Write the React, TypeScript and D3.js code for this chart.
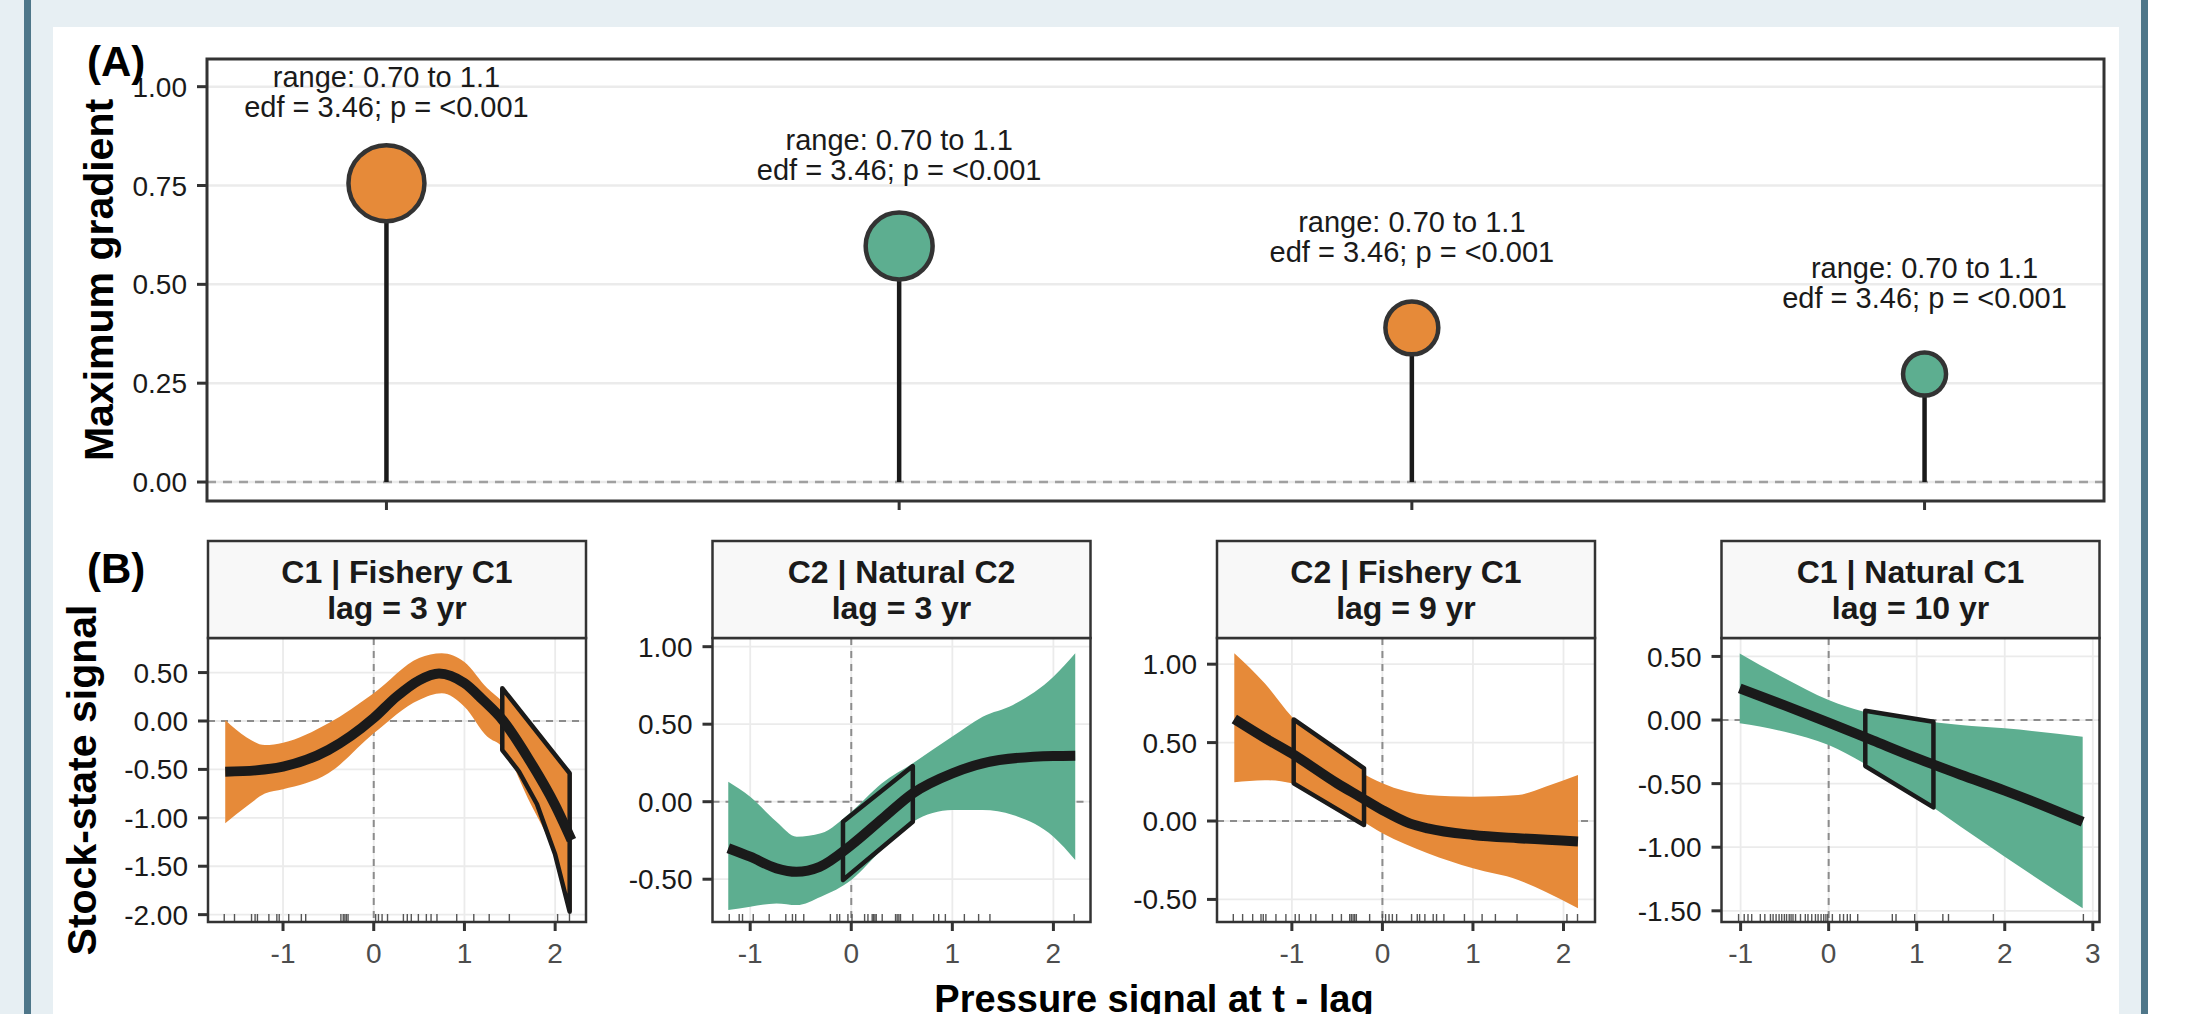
import React from "react";
import * as d3 from "d3";

const W = 2190;
const H = 1014;
const FONT = "'Liberation Sans', Arial, Helvetica, sans-serif";

// ---------------- Panel A data ----------------
const lollipopCategories = ["C1 | Fishery C1", "C2 | Natural C2", "C2 | Fishery C1", "C1 | Natural C1"];
const pressureType = ["Fishery", "Natural", "Fishery", "Natural"];
const maxGradient = [0.756, 0.597, 0.39, 0.273];
const rangeLabels = ["range: 0.70 to 1.1", "range: 0.70 to 1.1", "range: 0.70 to 1.1", "range: 0.70 to 1.1"];
const edfLabels = ["edf = 3.46; p = <0.001", "edf = 3.46; p = <0.001", "edf = 3.46; p = <0.001", "edf = 3.46; p = <0.001"];
const aYTicks = [0, 0.25, 0.5, 0.75, 1.0];
const aYDomain = [-0.048, 1.07];

// ---------------- Panel B data ----------------
const facetTitles = ["C1 | Fishery C1", "C2 | Natural C2", "C2 | Fishery C1", "C1 | Natural C1"];
const facetLags = [3, 3, 9, 10];

const f1XDomain = [-1.827, 2.34];
const f1YDomain = [-2.076, 0.857];
const f1XTicks = [-1, 0, 1, 2];
const f1YTicks = [0.5, 0, -0.5, -1, -1.5, -2];
const f1Fit = [[-1.637, -0.524], [-1.3, -0.51], [-1.0, -0.472], [-0.5, -0.3], [0, 0.03], [0.25, 0.25], [0.5, 0.42], [0.72, 0.49], [1.0, 0.39], [1.2, 0.22], [1.42, 0.01], [1.7, -0.38], [2.0, -0.87], [2.18, -1.23]];
const f1Band = [[-1.637, -1.057, 0.01], [-1.4, -0.88, -0.17], [-1.2, -0.75, -0.248], [-1.0, -0.706, -0.224], [-0.5, -0.54, -0.024], [0, -0.127, 0.286], [0.5, 0.217, 0.65], [0.75, 0.286, 0.7], [1.0, 0.148, 0.61], [1.25, -0.16, 0.34], [1.42, -0.27, 0.2], [1.7, -0.8, -0.1], [2.0, -1.4, -0.4], [2.18, -1.97, -0.54]];
const f1BoxTop = [[1.417, 0.338], [2.16, -0.54]];
const f1BoxBottom = [[1.417, -0.3], [1.6, -0.52], [1.8, -0.86], [2.0, -1.38], [2.16, -1.97]];
const f1Rug = [-1.648, -1.535, -1.347, -1.308, -1.282, -1.156, -1.068, -1.042, -0.937, -0.798, -0.75, -0.362, -0.336, -0.318, -0.301, -0.283, 0.021, 0.052, 0.092, 0.152, 0.327, 0.37, 0.414, 0.492, 0.58, 0.632, 0.697, 0.915, 1.103, 1.273, 1.495, 2.027, 2.158];

const f2XDomain = [-1.373, 2.367];
const f2YDomain = [-0.776, 1.056];
const f2XTicks = [-1, 0, 1, 2];
const f2YTicks = [1, 0.5, 0, -0.5];
const f2Fit = [[-1.217, -0.3], [-1.0, -0.355], [-0.74, -0.43], [-0.543, -0.452], [-0.313, -0.42], [0, -0.28], [0.313, -0.107], [0.609, 0.054], [1.0, 0.183], [1.464, 0.269], [2.0, 0.295], [2.216, 0.297]];
const f2Band = [[-1.217, -0.699, 0.129], [-1.0, -0.677, 0.032], [-0.74, -0.656, -0.129], [-0.54, -0.667, -0.226], [-0.3, -0.613, -0.204], [0, -0.505, -0.065], [0.3, -0.31, 0.118], [0.61, -0.129, 0.248], [1.0, -0.054, 0.42], [1.3, -0.054, 0.548], [1.6, -0.086, 0.624], [2.0, -0.226, 0.806], [2.216, -0.376, 0.957]];
const f2BoxTop = [[-0.082, -0.129], [0.609, 0.23]];
const f2BoxBottom = [[-0.082, -0.505], [0.609, -0.129]];
const f2Rug = [-1.207, -1.109, -1.076, -0.97, -0.812, -0.648, -0.582, -0.55, -0.47, -0.207, -0.141, -0.115, -0.033, 0.007, 0.132, 0.165, 0.207, 0.22, 0.234, 0.247, 0.306, 0.438, 0.454, 0.471, 0.487, 0.609, 0.816, 0.865, 0.931, 1.119, 1.26, 1.372, 2.205];

const f3XDomain = [-1.827, 2.348];
const f3YDomain = [-0.644, 1.167];
const f3XTicks = [-1, 0, 1, 2];
const f3YTicks = [1, 0.5, 0, -0.5];
const f3Fit = [[-1.636, 0.65], [-1.3, 0.53], [-1.0, 0.43], [-0.5, 0.24], [-0.25, 0.155], [0, 0.07], [0.3, -0.015], [0.5, -0.047], [1.0, -0.089], [1.5, -0.11], [2.16, -0.13]];
const f3Band = [[-1.636, 0.247, 1.07], [-1.3, 0.26, 0.878], [-1.0, 0.24, 0.665], [-0.5, 0.07, 0.432], [-0.25, 0.006, 0.315], [0, -0.078, 0.24], [0.5, -0.206, 0.166], [1.0, -0.302, 0.155], [1.5, -0.376, 0.166], [1.8, -0.451, 0.219], [2.16, -0.557, 0.293]];
const f3BoxTop = [[-0.98, 0.648], [-0.203, 0.336]];
const f3BoxBottom = [[-0.98, 0.24], [-0.203, -0.026]];
const f3Rug = [-1.647, -1.544, -1.433, -1.341, -1.316, -1.287, -1.176, -1.066, -0.963, -0.919, -0.791, -0.735, -0.552, -0.453, -0.361, -0.343, -0.324, -0.306, -0.288, -0.141, 0.0, 0.035, 0.073, 0.11, 0.157, 0.322, 0.385, 0.411, 0.469, 0.561, 0.598, 0.679, 0.906, 1.101, 1.248, 1.487, 2.038, 2.155];

const f4XDomain = [-1.217, 3.076];
const f4YDomain = [-1.588, 0.645];
const f4XTicks = [-1, 0, 1, 2, 3];
const f4YTicks = [0.5, 0, -0.5, -1, -1.5];
const f4Fit = [[-1.01, 0.249], [-0.5, 0.115], [0, -0.02], [0.5, -0.16], [1, -0.3], [1.5, -0.43], [2, -0.555], [2.5, -0.69], [2.885, -0.8]];
const f4Band = [[-1.01, -0.026, 0.524], [-0.5, -0.092, 0.328], [0, -0.197, 0.157], [0.4, -0.34, 0.065], [1, -0.6, 0.0], [1.5, -0.839, -0.039], [2, -1.075, -0.065], [2.885, -1.48, -0.131]];
const f4BoxTop = [[0.416, 0.073], [0.8, 0.03], [1.19, -0.013]];
const f4BoxBottom = [[0.416, -0.362], [1.19, -0.687]];
const f4Rug = [-1.023, -0.959, -0.916, -0.874, -0.776, -0.725, -0.661, -0.631, -0.597, -0.563, -0.533, -0.503, -0.478, -0.448, -0.427, -0.405, -0.376, -0.32, -0.265, -0.235, -0.192, -0.15, -0.12, -0.086, -0.056, -0.031, -0.01, 0.042, 0.127, 0.169, 0.212, 0.246, 0.33, 0.723, 0.765, 0.977, 1.297, 1.361, 1.871, 2.893];

const facets = [
  { xDomain: f1XDomain, yDomain: f1YDomain, xTicks: f1XTicks, yTicks: f1YTicks, fit: f1Fit, band: f1Band, boxTop: f1BoxTop, boxBottom: f1BoxBottom, rug: f1Rug },
  { xDomain: f2XDomain, yDomain: f2YDomain, xTicks: f2XTicks, yTicks: f2YTicks, fit: f2Fit, band: f2Band, boxTop: f2BoxTop, boxBottom: f2BoxBottom, rug: f2Rug },
  { xDomain: f3XDomain, yDomain: f3YDomain, xTicks: f3XTicks, yTicks: f3YTicks, fit: f3Fit, band: f3Band, boxTop: f3BoxTop, boxBottom: f3BoxBottom, rug: f3Rug },
  { xDomain: f4XDomain, yDomain: f4YDomain, xTicks: f4XTicks, yTicks: f4YTicks, fit: f4Fit, band: f4Band, boxTop: f4BoxTop, boxBottom: f4BoxBottom, rug: f4Rug },
];

const color = d3.scaleOrdinal<string, string>().domain(["Fishery", "Natural"]).range(["#E68A39", "#5DAE90"]);

const fmt2 = (v: number) => (Math.abs(v) < 1e-9 ? 0 : v).toFixed(2);

function PanelA() {
  const left = 207, right = 2104, top = 59, bottom = 501;
  const x = d3.scalePoint<string>().domain(lollipopCategories).range([left, right]).padding(0.35);
  const y = d3.scaleLinear().domain(aYDomain).range([bottom, top]);
  const ext = d3.extent(maxGradient) as [number, number];
  const area = d3.scaleLinear().domain(ext).range([21.5 * 21.5, 38 * 38]);
  const r = (v: number) => Math.sqrt(area(v));
  return (
    <g>
      <rect x={left} y={top} width={right - left} height={bottom - top} fill="#fff" />
      {aYTicks.map((t) => (
        <line key={t} x1={left} x2={right} y1={y(t)} y2={y(t)} stroke="#ebebeb" strokeWidth={2.5} />
      ))}
      <line x1={left} x2={right} y1={y(0)} y2={y(0)} stroke="#a0a0a0" strokeWidth={2.5} strokeDasharray="9,7" />
      {lollipopCategories.map((c, i) => (
        <line key={"s" + c} x1={x(c)} x2={x(c)} y1={y(0)} y2={y(maxGradient[i])} stroke="#1a1a1a" strokeWidth={4.5} />
      ))}
      {lollipopCategories.map((c, i) => (
        <circle key={"c" + c} cx={x(c)} cy={y(maxGradient[i])} r={r(maxGradient[i])} fill={color(pressureType[i])} stroke="#333" strokeWidth={4.5} />
      ))}
      {lollipopCategories.map((c, i) => {
        const base = y(maxGradient[i] + 0.2);
        return (
          <text key={"t" + c} x={x(c)} textAnchor="middle" fontFamily={FONT} fontSize={29} fill="#1a1a1a">
            <tspan x={x(c)} y={base - 17}>{rangeLabels[i]}</tspan>
            <tspan x={x(c)} y={base + 13}>{edfLabels[i]}</tspan>
          </text>
        );
      })}
      <rect x={left} y={top} width={right - left} height={bottom - top} fill="none" stroke="#333" strokeWidth={3} />
      {aYTicks.map((t) => (
        <g key={"yt" + t}>
          <line x1={left - 10} x2={left} y1={y(t)} y2={y(t)} stroke="#333" strokeWidth={3} />
          <text x={left - 20} y={y(t)} dy="0.36em" textAnchor="end" fontFamily={FONT} fontSize={28} fill="#1a1a1a">{fmt2(t)}</text>
        </g>
      ))}
      {lollipopCategories.map((c) => (
        <line key={"xt" + c} x1={x(c)} x2={x(c)} y1={bottom} y2={bottom + 9} stroke="#333" strokeWidth={3} />
      ))}
      <text transform={`translate(113,${(top + bottom) / 2}) rotate(-90)`} textAnchor="middle" fontFamily={FONT} fontWeight="bold" fontSize={41} fill="#000">Maximum gradient</text>
      <text x={87} y={76} fontFamily={FONT} fontWeight="bold" fontSize={42} fill="#000">(A)</text>
    </g>
  );
}

function Facet({ i }: { i: number }) {
  const f = facets[i];
  const left = 208 + i * 504.5;
  const right = left + 378;
  const top = 638, bottom = 922, stripTop = 541;
  const x = d3.scaleLinear().domain(f.xDomain).range([left, right]);
  const y = d3.scaleLinear().domain(f.yDomain).range([bottom, top]);
  const fill = color(pressureType[i]);
  const bandPath = d3.area<number[]>().x((d) => x(d[0])).y0((d) => y(d[1])).y1((d) => y(d[2])).curve(d3.curveMonotoneX)(f.band as number[][]);
  const fitPath = d3.line<number[]>().x((d) => x(d[0])).y((d) => y(d[1])).curve(d3.curveMonotoneX)(f.fit as number[][]);
  const boxPts = [...f.boxTop, ...[...f.boxBottom].reverse()];
  const boxPath = d3.line<number[]>().x((d) => x(d[0])).y((d) => y(d[1])).curve(d3.curveLinearClosed)(boxPts as number[][]);
  const cx = (left + right) / 2;
  return (
    <g>
      <rect x={left} y={top} width={right - left} height={bottom - top} fill="#fff" />
      {f.xTicks.map((t) => (
        <line key={"gx" + t} x1={x(t)} x2={x(t)} y1={top} y2={bottom} stroke="#ebebeb" strokeWidth={1.8} />
      ))}
      {f.yTicks.map((t) => (
        <line key={"gy" + t} x1={left} x2={right} y1={y(t)} y2={y(t)} stroke="#ebebeb" strokeWidth={1.8} />
      ))}
      <line x1={x(0)} x2={x(0)} y1={top} y2={bottom} stroke="#8c8c8c" strokeWidth={2} strokeDasharray="7,6" />
      <line x1={left} x2={right} y1={y(0)} y2={y(0)} stroke="#8c8c8c" strokeWidth={2} strokeDasharray="7,6" />
      <path d={bandPath || ""} fill={fill} stroke="none" />
      <path d={boxPath || ""} fill={fill} stroke="#1a1a1a" strokeWidth={4.5} strokeLinejoin="round" />
      <path d={fitPath || ""} fill="none" stroke="#1a1a1a" strokeWidth={10} />
      {f.rug.map((v, k) => (
        <line key={"r" + k} x1={x(v)} x2={x(v)} y1={bottom} y2={bottom - 8} stroke="#555" strokeWidth={1.4} />
      ))}
      <rect x={left} y={top} width={right - left} height={bottom - top} fill="none" stroke="#333" strokeWidth={2.5} />
      <rect x={left} y={stripTop} width={right - left} height={top - stripTop} fill="#f8f8f8" stroke="#333" strokeWidth={2.5} />
      <text x={cx} y={583} textAnchor="middle" fontFamily={FONT} fontWeight="bold" fontSize={32} fill="#1a1a1a">{facetTitles[i]}</text>
      <text x={cx} y={619} textAnchor="middle" fontFamily={FONT} fontWeight="bold" fontSize={32} fill="#1a1a1a">{`lag = ${facetLags[i]} yr`}</text>
      {f.yTicks.map((t) => (
        <g key={"yt" + t}>
          <line x1={left - 10} x2={left} y1={y(t)} y2={y(t)} stroke="#333" strokeWidth={3} />
          <text x={left - 20} y={y(t)} dy="0.36em" textAnchor="end" fontFamily={FONT} fontSize={28} fill="#1a1a1a">{fmt2(t)}</text>
        </g>
      ))}
      {f.xTicks.map((t) => (
        <g key={"xt" + t}>
          <line x1={x(t)} x2={x(t)} y1={bottom} y2={bottom + 9} stroke="#333" strokeWidth={3} />
          <text x={x(t)} y={963} textAnchor="middle" fontFamily={FONT} fontSize={28} fill="#4d4d4d">{String(t)}</text>
        </g>
      ))}
    </g>
  );
}

export default function App() {
  return (
    <svg width={W} height={H} viewBox={`0 0 ${W} ${H}`} style={{ position: "absolute", left: 0, top: 0, display: "block" }}>
      <rect x={0} y={0} width={W} height={H} fill="#ffffff" />
      <rect x={0} y={0} width={2141} height={H} fill="#e7eff3" />
      <rect x={24} y={0} width={7} height={H} fill="#4e7689" />
      <rect x={2141} y={0} width={7} height={H} fill="#4e7689" />
      <rect x={53} y={27} width={2119 - 53} height={H - 27} fill="#ffffff" />
      <PanelA />
      {facets.map((_, i) => (
        <Facet key={i} i={i} />
      ))}
      <text x={87} y={583} fontFamily={FONT} fontWeight="bold" fontSize={42} fill="#000">(B)</text>
      <text transform={`translate(96,780) rotate(-90)`} textAnchor="middle" fontFamily={FONT} fontWeight="bold" fontSize={41} fill="#000">Stock-state signal</text>
      <text x={1154} y={1012} textAnchor="middle" fontFamily={FONT} fontWeight="bold" fontSize={38} fill="#000">Pressure signal at t - lag</text>
    </svg>
  );
}
